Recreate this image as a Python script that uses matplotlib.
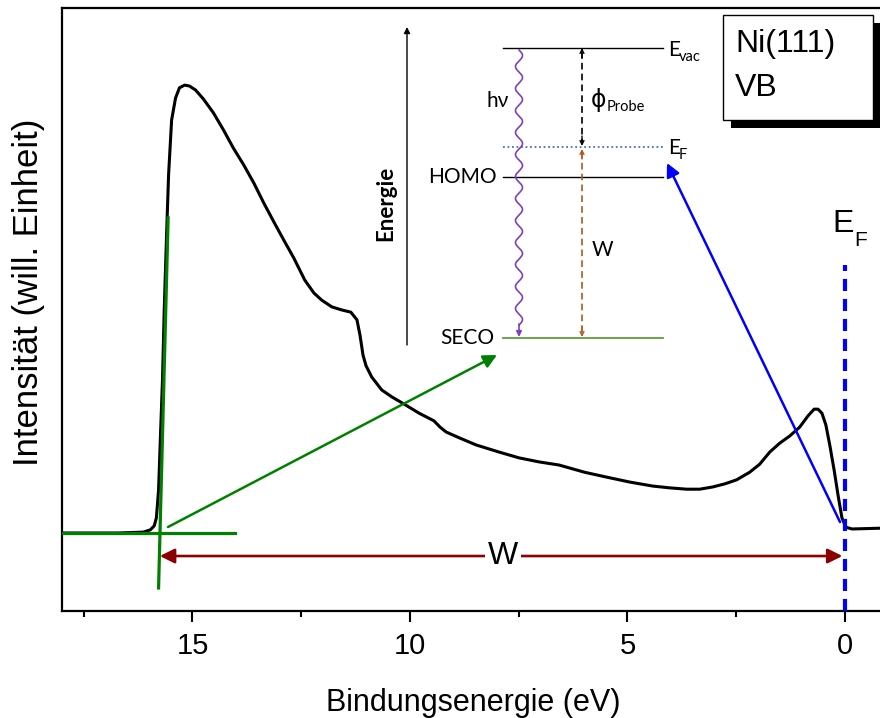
import numpy as np
import matplotlib.pyplot as plt
from matplotlib.patches import Rectangle

# ---------------- data ----------------
energy = [18.04, 16.71, 16.13, 15.97, 15.88, 15.83, 15.78, 15.74, 15.69, 15.65,
          15.60, 15.55, 15.48, 15.39, 15.30, 15.18, 15.07, 14.93, 14.75, 14.52,
          14.29, 14.06, 13.82, 13.59, 13.36, 13.13, 12.90, 12.67, 12.42, 12.21,
          12.03, 11.80, 11.57, 11.36, 11.22, 11.15, 11.08, 11.01, 10.88, 10.65,
          10.41, 10.18, 9.79, 9.45, 9.31, 9.17, 8.87, 8.48, 7.95, 7.49,
          7.03, 6.57, 5.99, 5.48, 4.95, 4.42, 4.03, 3.64, 3.34, 3.04,
          2.76, 2.49, 2.19, 1.96, 1.73, 1.50, 1.27, 1.04, 0.85, 0.71,
          0.62, 0.53, 0.44, 0.35, 0.25, 0.16, 0.07, -0.02, -0.16, -0.92]
intensity = [0.000, 0.000, 0.002, 0.007, 0.016, 0.034, 0.096, 0.208, 0.342, 0.499,
             0.655, 0.801, 0.924, 0.973, 0.996, 1.002, 1.000, 0.991, 0.971, 0.940,
             0.902, 0.861, 0.823, 0.783, 0.738, 0.696, 0.655, 0.615, 0.566, 0.537,
             0.521, 0.506, 0.499, 0.494, 0.477, 0.443, 0.398, 0.374, 0.349, 0.320,
             0.304, 0.291, 0.268, 0.251, 0.237, 0.226, 0.213, 0.197, 0.181, 0.168,
             0.159, 0.152, 0.136, 0.125, 0.114, 0.105, 0.101, 0.098, 0.098, 0.103,
             0.110, 0.119, 0.136, 0.154, 0.181, 0.201, 0.217, 0.237, 0.262, 0.277,
             0.277, 0.268, 0.242, 0.197, 0.141, 0.085, 0.034, 0.013, 0.009, 0.011]

xticks_major = [15, 10, 5, 0]
xtick_labels = ["15", "10", "5", "0"]
xticks_minor = [17.5, 12.5, 7.5, 2.5]

# construction lines (SECO / Fermi edge)
seco_base_E = [18.0, 14.02]
seco_base_I = [0.0, 0.0]
seco_tan_E = [15.78, 15.56]
seco_tan_I = [-0.123, 0.705]
E_seco = 15.75
E_fermi = 0.0

plt.rcParams['font.family'] = ['Liberation Sans', 'DejaVu Sans']

fig = plt.figure(figsize=(8.8, 7.18), dpi=100)
W, H = 880.0, 718.0
ax = fig.add_axes([62 / W, 1 - 611 / H, 823 / W, 603 / H])
ax.set_xlim(18.0, -0.92)
ax.set_ylim(-0.1745, 1.1745)

ax.plot(energy, intensity, color='black', lw=2.2, zorder=3)

# green SECO construction
ax.plot(seco_base_E, seco_base_I, color='#008000', lw=2.3, zorder=4)
ax.plot(seco_tan_E, seco_tan_I, color='#008000', lw=2.3, zorder=4)

# Fermi level dashed
ax.plot([E_fermi, E_fermi], [-0.1745, 0.60], color='#0000FF', lw=3.0,
        dashes=(2.9, 1.9), zorder=4, clip_on=False)

# W double arrow
ax.annotate('', xy=(0.06, -0.0515), xytext=(E_seco, -0.0515),
            arrowprops=dict(arrowstyle='<|-|>', color='#8B0000', lw=1.9,
                            mutation_scale=22, shrinkA=0, shrinkB=0), zorder=4)
ax.text(7.86, -0.0515, 'W', fontsize=23, ha='center', va='center',
        bbox=dict(facecolor='white', edgecolor='none', pad=2), zorder=5)

ax.set_xticks(xticks_major)
ax.set_xticklabels(xtick_labels)
ax.set_xticks(xticks_minor, minor=True)
ax.set_yticks([])
ax.tick_params(axis='x', which='major', direction='out', length=8, width=1.5,
               labelsize=21, pad=7)
ax.tick_params(axis='x', which='minor', direction='out', length=4, width=1.5)
for s in ['left', 'bottom', 'top']:
    ax.spines[s].set_linewidth(1.6)
ax.spines['right'].set_visible(False)

ax.set_xlabel('Bindungsenergie (eV)', fontsize=22, labelpad=20)
ax.set_ylabel('Intensität (will. Einheit)', fontsize=25, labelpad=12)
ax.yaxis.label.set_y((611 - 292) / 603)

# ---------------- overlay in pixel coordinates ----------------
o = fig.add_axes([0, 0, 1, 1], zorder=10)
o.set_xlim(0, W)
o.set_ylim(H, 0)
o.axis('off')

# arrows from the spectrum to the scheme
o.annotate('', xy=(497, 355), xytext=(168, 527),
           arrowprops=dict(arrowstyle='-|>', color='#008000', lw=1.8,
                           mutation_scale=20, shrinkA=0, shrinkB=0))
o.annotate('', xy=(667, 163), xytext=(840, 522),
           arrowprops=dict(arrowstyle='-|>', color='#0000FF', lw=1.8,
                           mutation_scale=20, shrinkA=0, shrinkB=0))

# E_F label at the dashed line
o.text(854, 224, 'E', fontsize=23, ha='right', va='center')
o.text(854, 240, 'F', fontsize=15, ha='left', va='center')

# sample box with shadow
o.add_patch(Rectangle((731, 23), 150, 105, facecolor='black', edgecolor='none'))
o.add_patch(Rectangle((723, 15), 150, 105, facecolor='white', edgecolor='black', lw=1))
o.text(735, 44, 'Ni(111)', fontsize=23, ha='left', va='center')
o.text(735, 88, 'VB', fontsize=23, ha='left', va='center')

# energy scheme
sf = ['Lato', 'DejaVu Sans']
o.annotate('', xy=(407, 27), xytext=(407, 345),
           arrowprops=dict(arrowstyle='-|>', color='black', lw=1.0,
                           mutation_scale=9, shrinkA=0, shrinkB=0))
o.text(386, 203, 'Energie', rotation=90, fontsize=16, fontweight='bold',
       ha='center', va='center', family=sf)

o.plot([503, 663], [48, 48], color='black', lw=1.0)
o.plot([503, 663], [147, 147], color='#4472C4', lw=1.3, ls=(0, (1, 1.5)))
o.plot([503, 663], [177, 177], color='black', lw=1.0)
o.plot([503, 663], [338, 338], color='#5E9E3A', lw=1.3)

o.text(668, 50, 'E', fontsize=15, ha='left', va='center', family=sf)
o.text(679, 57, 'vac', fontsize=10.5, ha='left', va='center', family=sf)
o.text(668, 148, 'E', fontsize=15, ha='left', va='center', family=sf)
o.text(679, 155, 'F', fontsize=10.5, ha='left', va='center', family=sf)
o.text(497, 177, 'HOMO', fontsize=15, ha='right', va='center', family=sf)
o.text(494, 338, 'SECO', fontsize=15, ha='right', va='center', family=sf)
o.text(498, 101, 'hν', fontsize=15, ha='center', va='center', family=sf)
o.text(591, 100, 'ϕ', fontsize=17, ha='left', va='center', family=['DejaVu Sans'])
o.text(607, 107, 'Probe', fontsize=10.5, ha='left', va='center', family=sf)
o.text(592, 250, 'W', fontsize=15, ha='left', va='center', family=sf)

# photon (wavy) line
yy = np.linspace(50, 325, 600)
xx = 519 + 3.5 * np.sin((yy - 50) / 22.0 * 2 * np.pi)
o.plot(xx, yy, color='#7F3FBF', lw=1.2)
o.annotate('', xy=(519, 337), xytext=(519, 324),
           arrowprops=dict(arrowstyle='-|>', color='#7F3FBF', lw=1.2,
                           mutation_scale=8, shrinkA=0, shrinkB=0))

# phi_Probe (black dashed) and W (brown dashed)
o.plot([582, 582], [52, 142], color='black', lw=1.2, ls=(0, (4, 2.5)))
o.annotate('', xy=(582, 48), xytext=(582, 58),
           arrowprops=dict(arrowstyle='->', color='black', lw=1.0,
                           mutation_scale=7, shrinkA=0, shrinkB=0))
o.annotate('', xy=(582, 146), xytext=(582, 136),
           arrowprops=dict(arrowstyle='->', color='black', lw=1.0,
                           mutation_scale=7, shrinkA=0, shrinkB=0))
o.plot([582, 582], [152, 334], color='#B0581E', lw=1.2, ls=(0, (4, 2.5)))
o.annotate('', xy=(582, 149), xytext=(582, 159),
           arrowprops=dict(arrowstyle='->', color='#B0581E', lw=1.0,
                           mutation_scale=7, shrinkA=0, shrinkB=0))
o.annotate('', xy=(582, 337), xytext=(582, 327),
           arrowprops=dict(arrowstyle='->', color='#B0581E', lw=1.0,
                           mutation_scale=7, shrinkA=0, shrinkB=0))

fig.savefig('out.png', dpi=100)
